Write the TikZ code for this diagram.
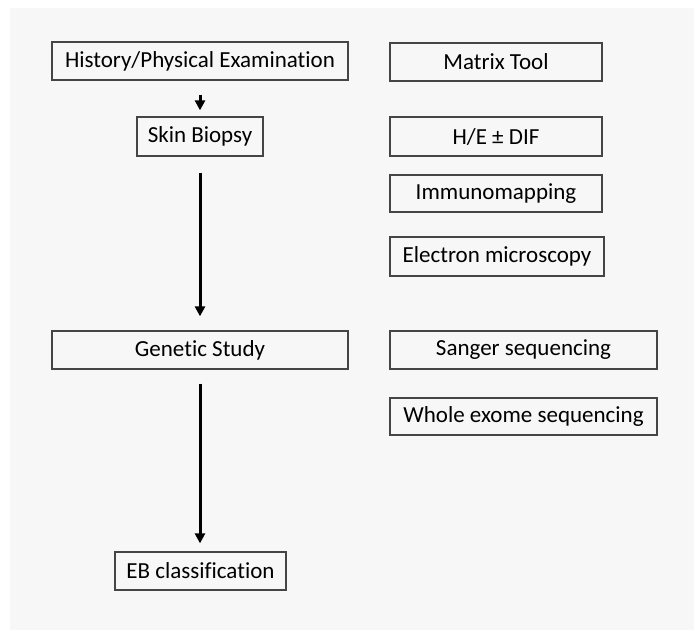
\documentclass[tikz,border=0pt]{standalone}
\usepackage{fontspec}
\setmainfont{Carlito}[Ligatures={NoCommon}]
\usetikzlibrary{arrows.meta}
\definecolor{bg}{HTML}{F7F7F7}
\definecolor{edge}{HTML}{454545}
\begin{document}
\begin{tikzpicture}[x=1pt,y=-1pt,
  box/.style={draw=edge,line width=1.3pt,rectangle,inner sep=0pt,align=center,
    font=\fontsize{23}{26}\selectfont,text=black},
  flow/.style={line width=3pt,-{Triangle[length=10pt,width=10pt]}}]
\useasboundingbox (0,0) rectangle (694,630);
\fill[bg] (10,8) rectangle (694,630);
\node[box,minimum width=296pt,minimum height=38pt] (hist) at (200,61) {History/Physical Examination};
\node[box,minimum width=126pt,minimum height=39pt] (skin) at (200,136.5) {Skin Biopsy};
\node[box,minimum width=296pt,minimum height=38pt] (gen) at (200,350) {Genetic Study};
\node[box,minimum width=171pt,minimum height=38pt] (eb) at (200.5,571) {EB classification};
\node[box,minimum width=212pt,minimum height=38pt] (mt) at (496,62) {Matrix Tool};
\node[box,minimum width=212pt,minimum height=39pt] (he) at (496,136.5) {H/E ± DIF};
\node[box,minimum width=212pt,minimum height=37pt] (im) at (496,193.5) {Immunomapping};
\node[box,minimum width=214pt,minimum height=39pt] (em) at (497,256.5) {Electron microscopy};
\node[box,minimum width=267pt,minimum height=38pt] (sg) at (523.5,350) {Sanger sequencing};
\node[box,minimum width=267pt,minimum height=37pt] (wes) at (523.5,416.5) {Whole exome sequencing};
\draw[flow,shorten <=14pt,shorten >=6pt] (hist.south) -- (skin.north);
\draw[flow,shorten <=16pt,shorten >=14pt] (skin.south) -- (gen.north);
\draw[flow,shorten <=14pt,shorten >=8pt] (gen.south) -- (eb.north -| gen.south);
\end{tikzpicture}
\end{document}
